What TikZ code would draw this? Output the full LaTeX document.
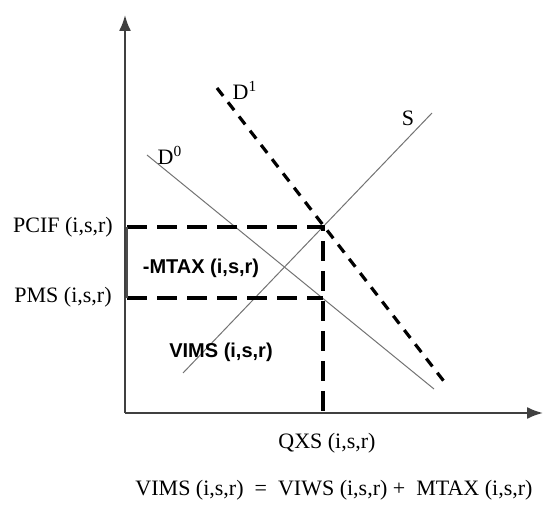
\documentclass[tikz,border=0pt]{standalone}
\usepackage{fontspec}
\setmainfont{Liberation Serif}
\setsansfont{Liberation Sans}
\usetikzlibrary{arrows.meta, positioning}

\begin{document}
\begin{tikzpicture}[
    x=0.5pt, y=-0.5pt,
    every node/.style={font=\fontsize{11}{13}\selectfont, inner sep=0pt},
    axis/.style={-{Latex[length=8pt, width=6pt]}, line width=1pt, draw=black!75},
    curve/.style={line width=0.5pt, draw=black!55},
    shifted/.style={line width=1.6pt, dash pattern=on 5pt off 4pt},
    frame/.style={line width=1.6pt, dash pattern=on 10pt off 5pt},
    area/.style={font=\sffamily\bfseries\fontsize{10}{12}\selectfont}
]
\useasboundingbox (0,0) rectangle (546,507);

% --- axes ---
\coordinate (origin) at (125,413);
\coordinate (ytop) at (125,15);
\coordinate (xend) at (543,413);
\draw [axis] (origin) -- (ytop);
\draw [axis] (origin) -- (xend);

% --- supply and demand ---
\coordinate (s0) at (183,373);
\coordinate (s1) at (432,113);
\coordinate (d0a) at (147,155);
\coordinate (d0b) at (434,389);
\coordinate (d1a) at (217,88);
\coordinate (d1b) at (446,384);
\draw [curve] (s0) -- (s1);
\draw [curve] (d0a) -- (d0b);
\draw [shifted] (d1a) -- (d1b);

% --- price wedge ---
\coordinate (eq) at (323,227);
\coordinate (pcifl) at (127,227);
\coordinate (pmsl) at (127,298);
\coordinate (pmsr) at (323,298);
\coordinate (qfoot) at (323,413);
\draw [frame] (pcifl) -- (eq) -- (qfoot);
\draw [frame] (pmsl) -- (pmsr);
\draw [line width=0.8pt, draw=black!70] (pcifl) -- (pmsl);

% --- labels ---
\node (pcif) at (63,227) {PCIF (i,s,r)};
\node (pms) at (63,297) {PMS (i,s,r)};
\node (mtax) [area] at (201,268) {-MTAX (i,s,r)};
\node (vims) [area] at (221,352) {VIMS (i,s,r)};
\node (qxs) at (327,443) {QXS (i,s,r)};
\node (dzero) at (170,155) {D\textsuperscript{0}};
\node (done) at (245,90) {D\textsuperscript{1}};
\node (supply) at (408,118) {S};
\node (identity) at (334,490) {VIMS (i,s,r) \ = \ VIWS (i,s,r) + \ MTAX (i,s,r)};

\end{tikzpicture}
\end{document}
